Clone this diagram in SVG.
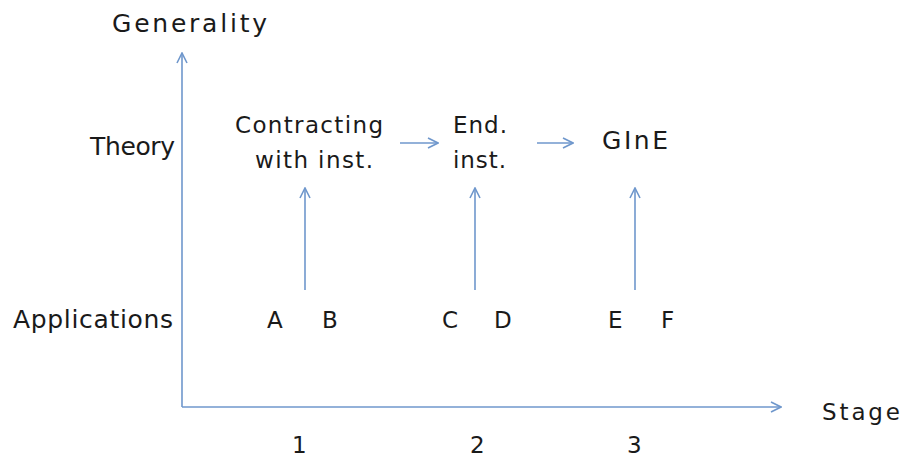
<svg xmlns="http://www.w3.org/2000/svg" width="904" height="459" viewBox="0 0 904 459">
<defs>
<style>
text{font-family:"DejaVu Sans","Liberation Sans",sans-serif;font-size:23px;fill:#1a1a1a}
.big{font-size:25px}
.ln{stroke:#6f97cc;stroke-width:1.6;fill:none}
</style>
<marker id="ah" viewBox="0 0 12 12" refX="11" refY="6" markerWidth="12" markerHeight="12" markerUnits="userSpaceOnUse" orient="auto">
<path d="M1,1 L11,6 L1,11" fill="none" stroke="#6f97cc" stroke-width="1.6"/>
</marker>
</defs>
<rect width="904" height="459" fill="#fff"/>
<g id="connectors">
<path class="ln" d="M182,407 V53" marker-end="url(#ah)"/>
<path class="ln" d="M182,407 H781" marker-end="url(#ah)"/>
<path class="ln" d="M400,143 H438" marker-end="url(#ah)"/>
<path class="ln" d="M537,143 H573" marker-end="url(#ah)"/>
<path class="ln" d="M305,290 V188" marker-end="url(#ah)"/>
<path class="ln" d="M475,290 V188" marker-end="url(#ah)"/>
<path class="ln" d="M635,290 V188" marker-end="url(#ah)"/>
</g>
<g id="axis-labels">
<text class="big" x="112" y="32" textLength="155" lengthAdjust="spacing">Generality</text>
<text x="822" y="420" textLength="78" lengthAdjust="spacing">Stage</text>
<text class="big" x="90" y="155" textLength="85" lengthAdjust="spacing">Theory</text>
<text class="big" x="13" y="328" textLength="160" lengthAdjust="spacing">Applications</text>
<text x="292" y="453">1</text>
<text x="470" y="453">2</text>
<text x="627" y="453">3</text>
</g>
<g id="node-contracting">
<text x="235" y="133" textLength="148" lengthAdjust="spacing">Contracting</text>
<text x="255" y="168" textLength="118" lengthAdjust="spacing">with inst.</text>
</g>
<g id="node-end-inst">
<text x="453" y="133" textLength="54" lengthAdjust="spacing">End.</text>
<text x="453" y="168" textLength="53" lengthAdjust="spacing">inst.</text>
</g>
<g id="node-gine">
<text class="big" x="602" y="149" textLength="66" lengthAdjust="spacing">GInE</text>
</g>
<g id="node-ab">
<text x="267" y="328">A</text>
<text x="322" y="328">B</text>
</g>
<g id="node-cd">
<text x="442" y="328">C</text>
<text x="494" y="328">D</text>
</g>
<g id="node-ef">
<text x="608" y="328">E</text>
<text x="661" y="328">F</text>
</g>
</svg>
